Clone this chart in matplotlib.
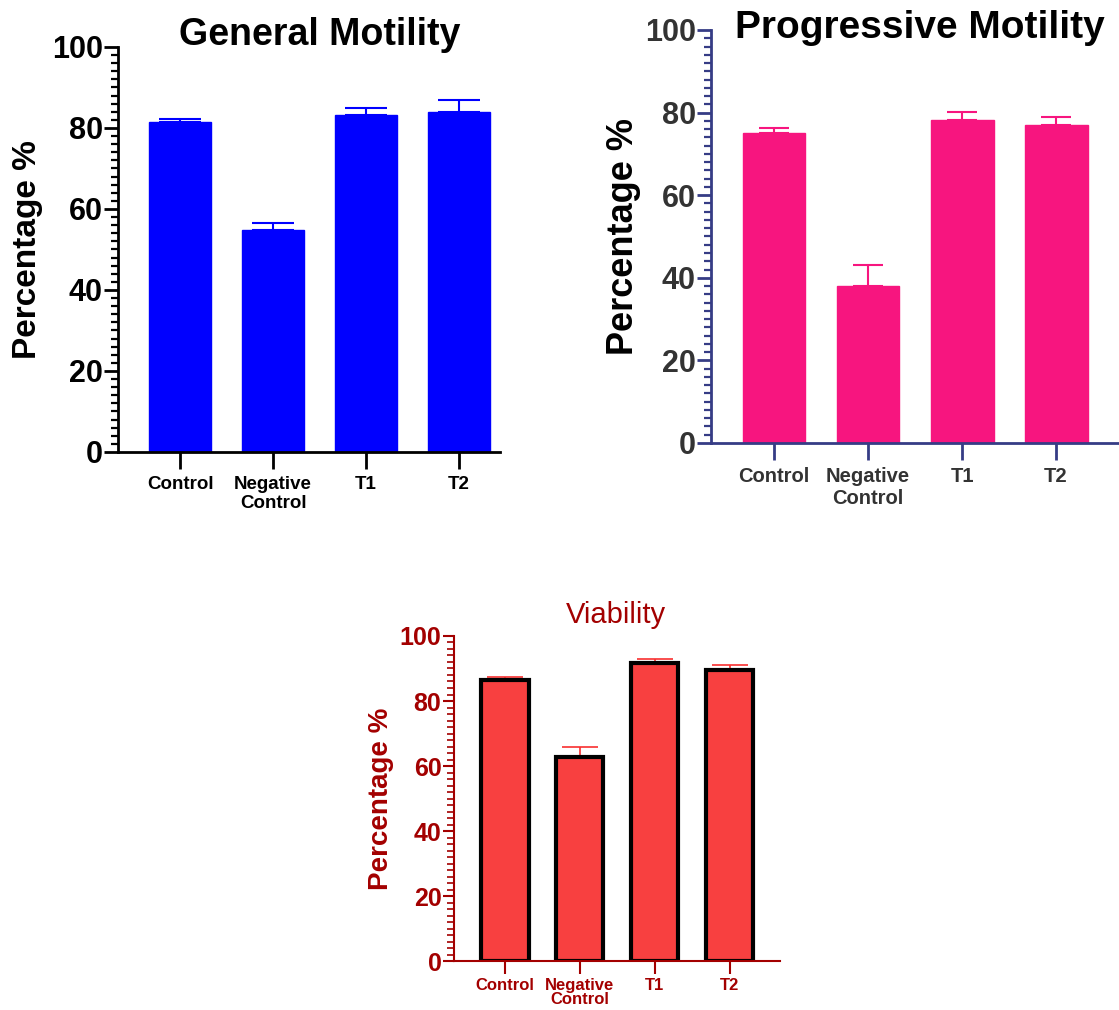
import matplotlib
matplotlib.use("Agg")
import matplotlib.pyplot as plt
from matplotlib.ticker import MultipleLocator

plt.rcParams['font.family'] = ['Liberation Sans', 'DejaVu Sans']

categories = ["Control", "Negative\nControl", "T1", "T2"]

gm_values = [81.5, 54.8, 83.2, 84.0]
gm_err = [0.6, 1.7, 1.8, 3.0]

pm_values = [75.0, 38.0, 78.2, 77.0]
pm_err = [1.2, 5.0, 2.0, 2.0]

vi_values = [86.6, 62.7, 91.6, 89.6]
vi_err = [0.9, 3.3, 1.4, 1.4]

W, H = 1119, 1010
fig = plt.figure(figsize=(W / 100, H / 100), dpi=100)


def style_axis(ax, spine_color, tick_label_color, major_len=10, minor_len=5,
               ytick_size=20, xtick_size=12, lw=2.0, xtick_len=12, xpad=5):
    for s in ['top', 'right']:
        ax.spines[s].set_visible(False)
    for s in ['left', 'bottom']:
        ax.spines[s].set_color(spine_color)
        ax.spines[s].set_linewidth(lw)
    ax.set_ylim(0, 100)
    ax.yaxis.set_major_locator(MultipleLocator(20))
    ax.yaxis.set_minor_locator(MultipleLocator(2))
    ax.tick_params(axis='y', which='major', length=major_len, width=lw,
                   color=spine_color, labelcolor=tick_label_color,
                   labelsize=ytick_size, pad=1)
    ax.tick_params(axis='y', which='minor', length=minor_len, width=lw * 0.8,
                   color=spine_color)
    ax.tick_params(axis='x', which='major', length=xtick_len, width=lw,
                   color=spine_color, labelcolor=tick_label_color,
                   labelsize=xtick_size, pad=xpad)
    for lab in ax.get_yticklabels() + ax.get_xticklabels():
        lab.set_fontweight('bold')


x = list(range(len(categories)))

# Panel 1: General Motility
ax1 = fig.add_axes([0.1055, 0.5525, 0.3413, 0.401])
ax1.bar(x, gm_values, width=0.67, color='#0000ff', edgecolor='#0000ff', zorder=2)
ax1.errorbar(x, gm_values, yerr=[[0] * 4, gm_err], fmt='none', ecolor='#0000ff',
             elinewidth=1.5, capsize=15, capthick=1.5, zorder=1)
ax1.set_xticks(x)
ax1.set_xticklabels(categories)
ax1.set_xlim(-0.667, 3.44)
style_axis(ax1, 'black', 'black', ytick_size=22, xtick_size=13.5)
ax1.set_ylabel("Percentage %", fontsize=24, fontweight='bold', labelpad=6)
fig.text(320 / W, 1 - 45 / H, "General Motility", fontsize=27, fontweight='bold',
         ha='center', va='baseline')

# Panel 2: Progressive Motility
ax2 = fig.add_axes([0.6354, 0.5614, 0.3646, 0.4089])
ax2.bar(x, pm_values, width=0.67, color='#f7157f', edgecolor='#f7157f', zorder=2)
ax2.errorbar(x, pm_values, yerr=[[0] * 4, pm_err], fmt='none', ecolor='#f7157f',
             elinewidth=1.5, capsize=11, capthick=1.5, zorder=1)
ax2.set_xticks(x)
ax2.set_xticklabels(categories)
ax2.set_xlim(-0.67, 3.67)
style_axis(ax2, '#363c85', '#333333', ytick_size=22, xtick_size=14.5)
ax2.set_ylabel("Percentage %", fontsize=26, fontweight='bold', labelpad=3)
fig.text(920 / W, 1 - 38 / H, "Progressive Motility", fontsize=28, fontweight='bold',
         ha='center', va='baseline')

# Panel 3: Viability
ax3 = fig.add_axes([0.4057, 0.0485, 0.2913, 0.3218])
dark_red = '#a30000'
ax3.bar(x, vi_values, width=0.63, color='#f84040', edgecolor='black',
        linewidth=3, zorder=2)
ax3.errorbar(x, vi_values, yerr=[[0] * 4, vi_err], fmt='none', ecolor='#f83030',
             elinewidth=1.2, capsize=13, capthick=1.2, zorder=1)
ax3.set_xticks(x)
ax3.set_xticklabels(categories)
ax3.set_xlim(-0.68, 3.67)
style_axis(ax3, dark_red, dark_red, major_len=8, minor_len=5,
           ytick_size=18, xtick_size=12, lw=1.5, xtick_len=9, xpad=3)
for lab in ax3.get_xticklabels():
    lab.set_linespacing(0.95)
ax3.set_ylabel("Percentage %", fontsize=20, fontweight='bold', color=dark_red, labelpad=4)
fig.text(616 / W, 1 - 623 / H, "Viability", fontsize=21, color=dark_red,
         ha='center', va='baseline')

fig.savefig("out.png", dpi=100)
